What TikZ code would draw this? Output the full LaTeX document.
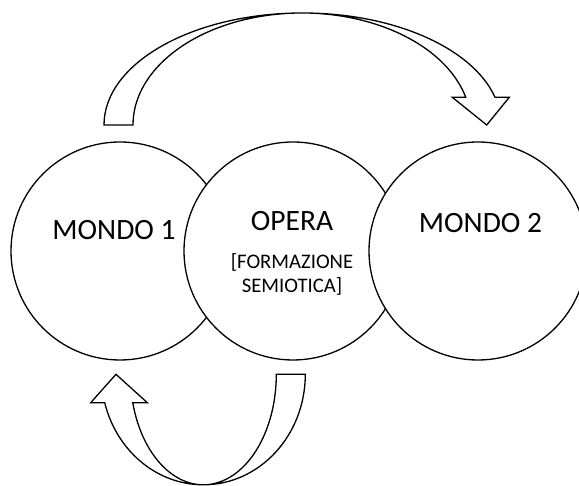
\documentclass[tikz,border=0pt]{standalone}
\usepackage{fontspec}
\setmainfont{Carlito}
\usetikzlibrary{calc}
\begin{document}
\begin{tikzpicture}[x=1pt,y=1pt,
  ring/.style={circle,draw=black,fill=white,line width=1.3pt,minimum size=218pt,inner sep=0pt},
  bandarrow/.style={draw=black,fill=white,line width=1.3pt,line join=miter},
  bigtext/.style={anchor=base,inner sep=0pt,font=\fontsize{29.5}{35}\selectfont},
  smalltext/.style={anchor=base,inner sep=0pt,font=\fontsize{20.7}{24.4}\selectfont}]
\useasboundingbox (0,0) rectangle (579,486);
\clip (0,0) rectangle (579,486);

% the three worlds
\node[ring] (mondoA) at (120,235) {};
\node[ring] (opera) at (293,235) {};
\node[ring] (mondoB) at (478,235) {};

\node[bigtext] (tA) at (114,246) {MONDO 1};
\node[bigtext] (tO) at (292,255.3) {OPERA};
\node[smalltext] (tF1) at (292,217.7) {[FORMAZIONE};
\node[smalltext] (tF2) at (292,193.3) {SEMIOTICA]};
\node[bigtext] (tB) at (480.5,253) {MONDO 2};

% curved arrow over the top, from world 1 to world 2
\coordinate (topc) at (302,361);
\draw[bandarrow] (104,361)
  arc[start angle=180,end angle=14.3,x radius=198.6pt,y radius=112pt]
  -- (509.3,388.7) -- (486.7,361) -- (452.3,388.7)
  -- ($(topc)+(14.3:169pt and 112pt)$)
  arc[start angle=14.3,end angle=180,x radius=169pt,y radius=112pt]
  -- cycle;

% curved arrow underneath, from the work back to world 1
\coordinate (botc) at (203.3,111.7);
\draw[bandarrow] (305.3,111.7)
  arc[start angle=0,end angle=-165.1,x radius=102pt,y radius=110.5pt]
  -- (90.7,83.3) -- (116,111.7) -- (147.3,83.3)
  -- ($(botc)+(-165.1:73pt and 110.5pt)$)
  arc[start angle=-165.1,end angle=0,x radius=73pt,y radius=110.5pt]
  -- cycle;
\end{tikzpicture}
\end{document}
